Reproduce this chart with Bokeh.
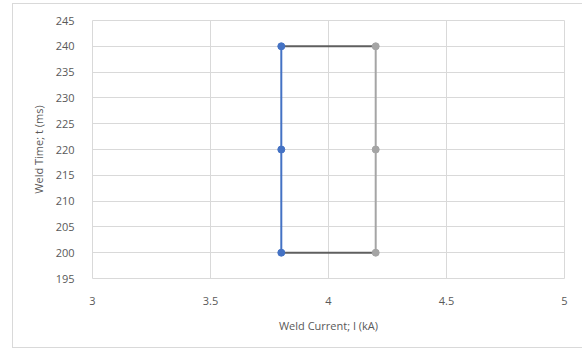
from bokeh.plotting import figure
from bokeh.models import FixedTicker
from bokeh.embed import file_html
from bokeh.resources import INLINE

# Weld schedule window: current (kA) vs. time (ms)
low_current = [3.8, 3.8, 3.8]
low_time = [200, 220, 240]
high_current = [4.2, 4.2, 4.2]
high_time = [200, 220, 240]
top_edge_current = [3.8, 4.2]
top_edge_time = [240, 240]
bottom_edge_current = [3.8, 4.2]
bottom_edge_time = [200, 200]

x_ticks = [3, 3.5, 4, 4.5, 5]
y_ticks = [195, 200, 205, 210, 215, 220, 225, 230, 235, 240, 245]

FONT = "Open Sans"
GRID = "#d9d9d9"
TEXT = "#595959"

p = figure(width=570, height=345, x_range=(3, 5), y_range=(195, 245),
           output_backend="svg", toolbar_location=None,
           min_border_left=79, min_border_right=19,
           min_border_top=16, min_border_bottom=71)
# chart area border on the page
p.margin = (3, 0, 0, 12)
p.styles = {"border-left": "1px solid #d9d9d9",
            "border-top": "1px solid #d9d9d9",
            "border-bottom": "1px solid #d9d9d9"}
p.outline_line_color = GRID
p.background_fill_color = "white"
p.border_fill_color = "white"

for ax in (p.xaxis, p.yaxis):
    ax.axis_line_color = None
    ax.major_tick_line_color = None
    ax.minor_tick_line_color = None
    ax.major_label_text_font = FONT
    ax.major_label_text_font_size = "11px"
    ax.major_label_text_color = TEXT
    ax.axis_label_text_font = FONT
    ax.axis_label_text_font_size = "11px"
    ax.axis_label_text_color = TEXT
    ax.axis_label_text_font_style = "normal"

p.xaxis.ticker = FixedTicker(ticks=x_ticks)
p.yaxis.ticker = FixedTicker(ticks=y_ticks)
p.xaxis.major_label_overrides = {3: "3", 3.5: "3.5", 4: "4", 4.5: "4.5", 5: "5"}
p.xaxis.major_label_standoff = 12
p.yaxis.major_label_standoff = 12
p.xaxis.axis_label = "Weld Current; I (kA)"
p.yaxis.axis_label = "Weld Time; t (ms)"
p.xaxis.axis_label_standoff = 10
p.yaxis.axis_label_standoff = 7

p.xgrid.grid_line_color = GRID
p.ygrid.grid_line_color = GRID
p.xgrid.grid_line_width = 1
p.ygrid.grid_line_width = 1

DARK = "#5f5f5f"
p.line(top_edge_current, top_edge_time, line_color=DARK, line_width=2)
p.line(bottom_edge_current, bottom_edge_time, line_color=DARK, line_width=2)

GRAY = "#a5a5a5"
p.line(high_current, high_time, line_color=GRAY, line_width=2)
p.scatter(high_current, high_time, size=7, color=GRAY)

BLUE = "#4472c4"
p.line(low_current, low_time, line_color=BLUE, line_width=2)
p.scatter(low_current, low_time, size=7, color=BLUE)

open("out.html", "w").write(file_html(p, INLINE))
